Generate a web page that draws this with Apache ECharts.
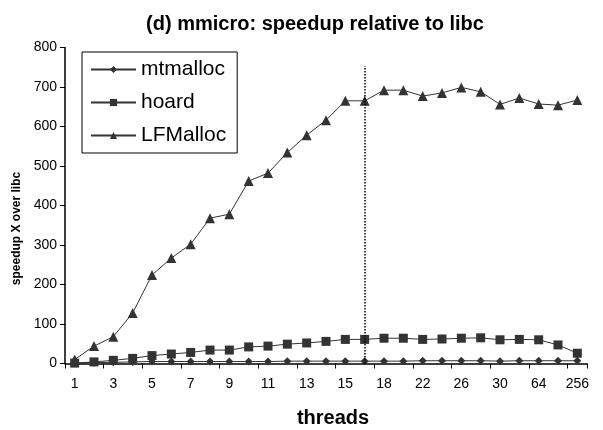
<!DOCTYPE html>
<html>
<head>
<meta charset="utf-8">
<script src="https://cdn.jsdelivr.net/npm/echarts@6/dist/echarts.min.js"></script>
<style>
  html, body { margin: 0; padding: 0; background: #fff; }
  #chart { width: 603px; height: 430px; }
</style>
</head>
<body>
<div id="chart"></div>
<script>
const threads = ['1', '2', '3', '4', '5', '6', '7', '8', '9', '10', '11', '12', '13', '14', '15', '16',
    '18', '20', '22', '24', '26', '28', '30', '32', '64', '128', '256'];
const mtmalloc = [1, 2, 3, 4, 5, 5, 5, 5, 5, 5, 5, 6, 6, 6, 6, 6, 6, 6, 7, 7, 7, 7, 6, 7, 7, 7, 7];
const hoard = [1, 4, 8, 13, 20, 24, 28, 34, 34, 42, 44, 49, 52, 56, 61, 61, 64, 64, 61, 62, 64, 65, 60, 61, 60, 47, 26];
const lfmalloc = [10, 44, 68, 128, 224, 267, 302, 368, 378, 462, 482, 534, 578, 616, 665, 665,
    692, 692, 677, 685, 699, 688, 656, 672, 657, 654, 667];
const yTicks = { min: 0, max: 800, interval: 100 };
const markerAt = '16';
const markerTop = 753;

const font = 'Liberation Sans, Arial, sans-serif';
const ink = '#333';

const chart = echarts.init(document.getElementById('chart'));

const makeSeries = (name, data, symbol, size) => ({
    name: name,
    type: 'line',
    data: data,
    symbol: symbol,
    symbolSize: size,
    lineStyle: { color: ink, width: 1 },
    itemStyle: { color: ink },
    animation: false
});

const lfSeries = makeSeries('LFMalloc', lfmalloc, 'triangle', 10);
lfSeries.markLine = {
    silent: true,
    symbol: 'none',
    label: { show: false },
    lineStyle: { color: '#000', type: 'dotted', width: 1.5 },
    data: [[{ coord: [markerAt, 0] }, { coord: [markerAt, markerTop] }]]
};

chart.setOption({
    animation: false,
    title: {
        text: '(d) mmicro: speedup relative to libc',
        left: 310,
        textAlign: 'center',
        top: 9,
        textStyle: { fontFamily: font, fontSize: 20, fontWeight: 'bold', color: '#000' }
    },
    legend: {
        orient: 'vertical',
        left: 82,
        top: 52,
        padding: [7, 11, 7, 8],
        itemGap: 12,
        itemWidth: 45,
        itemHeight: 9,
        borderColor: '#000',
        borderWidth: 1,
        backgroundColor: '#fff',
        textStyle: { fontFamily: font, fontSize: 21, color: '#000' },
        data: ['mtmalloc', 'hoard', 'LFMalloc']
    },
    grid: { left: 65, right: 16, top: 47.5, bottom: 66.5, outerBoundsMode: 'none' },
    xAxis: {
        type: 'category',
        data: threads,
        boundaryGap: true,
        name: 'threads',
        nameLocation: 'middle',
        nameGap: 45,
        nameTextStyle: { fontFamily: font, fontSize: 20, fontWeight: 'bold', color: '#000', padding: [0, 0, 0, 14] },
        axisLine: { lineStyle: { color: '#000', width: 1.5 } },
        axisTick: { show: true, inside: false, length: 5, lineStyle: { color: '#000' } },
        axisLabel: { interval: 1, fontFamily: font, fontSize: 14, color: '#000', margin: 14 },
        splitLine: { show: false }
    },
    yAxis: {
        type: 'value',
        min: yTicks.min,
        max: yTicks.max,
        interval: yTicks.interval,
        name: 'speedup X over libc',
        nameLocation: 'middle',
        nameGap: 38,
        nameTextStyle: { fontFamily: font, fontSize: 12, fontWeight: 'bold', color: '#000', padding: [0, 46, 0, 0] },
        axisLine: { show: true, lineStyle: { color: '#000', width: 1.5 } },
        axisTick: { show: true, length: 5, lineStyle: { color: '#000' } },
        axisLabel: { fontFamily: font, fontSize: 14, color: '#000', margin: 8 },
        splitLine: { show: false }
    },
    series: [
        makeSeries('mtmalloc', mtmalloc, 'diamond', 8),
        makeSeries('hoard', hoard, 'rect', 9),
        lfSeries
    ]
});
</script>
</body>
</html>
